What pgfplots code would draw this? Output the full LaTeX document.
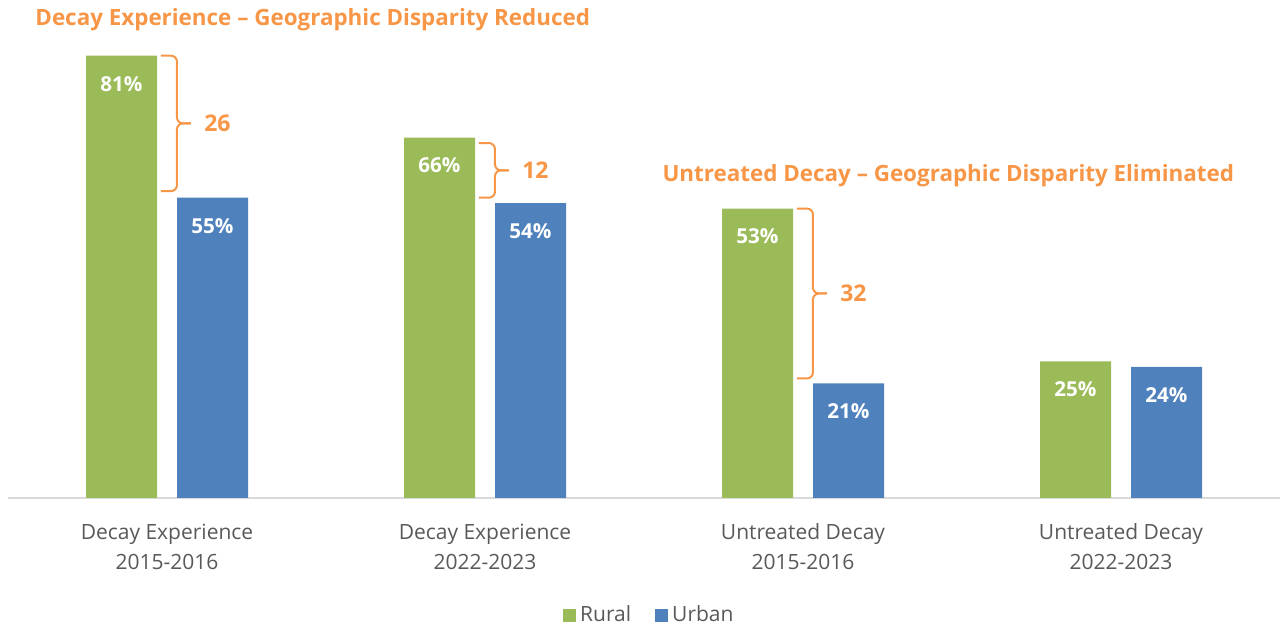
\documentclass[border=0pt]{standalone}
\usepackage{pgfplots}
\pgfplotsset{compat=1.18}
\usepackage{fontspec}
\setmainfont{Open Sans}
\definecolor{rural}{HTML}{9BBB59}
\definecolor{urban}{HTML}{4F81BD}
\definecolor{orng}{HTML}{F79646}
\definecolor{tickc}{HTML}{595959}
\definecolor{axisc}{HTML}{D9D9D9}
\newcommand{\mybrace}[4]{%
  \coordinate (ba) at (axis cs:#1,#2);
  \coordinate (bb) at (axis cs:#1,#3);
  \coordinate (bm) at (axis cs:#1,{(#2+#3)/2});
  \draw[orng, line width=1pt, rounded corners=3pt] (ba) -- ([xshift=8pt]ba) -- ([xshift=8pt]bm) -- ([xshift=15pt]bm);
  \draw[orng, line width=1pt, rounded corners=3pt] (bb) -- ([xshift=8pt]bb) -- ([xshift=8pt]bm) -- ([xshift=15pt]bm);
  \node[anchor=west, inner sep=0pt, text=orng, font=\fontsize{11.5}{13}\selectfont\bfseries] at ([xshift=21.5pt]bm) {#4};
}
\begin{document}
\begin{tikzpicture}
\path[use as bounding box] (0,0) rectangle (640pt,312pt);
\begin{axis}[
  at={(4pt,63pt)}, anchor=south west,
  scale only axis, width=636pt, height=249pt,
  xmin=-0.5, xmax=3.5, ymin=0, ymax=91.2,
  clip=false,
  ybar=10pt, bar width=35.5pt,
  axis y line=none,
  axis x line=bottom,
  x axis line style={draw=axisc, line width=1pt, -},
  xtick={0,1,2,3},
  xticklabels={{\strut Decay Experience\\2015-2016},{\strut Decay Experience\\2022-2023},{\strut Untreated Decay\\2015-2016},{\strut Untreated Decay\\2022-2023}},
  xticklabel style={align=center, text=tickc, font=\fontsize{10.5}{15}\selectfont, yshift=-6.5pt},
  major tick length=0pt,
  /pgf/number format/assume math mode=true,
  nodes near coords={\pgfmathprintnumber{\pgfplotspointmeta}\%},
  every node near coord/.append style={font=\fontsize{10.3}{12}\selectfont\bfseries, text=white, anchor=center, yshift=-14pt},
  legend style={at={(0.505,-0.235)}, anchor=center, draw=none, legend columns=2,
    font=\fontsize{10.5}{12}\selectfont, text=tickc,
    /tikz/every even column/.append style={column sep=10pt}},
  legend image code/.code={\fill[#1] (0pt,-3.25pt) rectangle (6.5pt,3.25pt);},
]
\addplot[fill=rural, draw=none] coordinates {(0,81) (1,66) (2,53) (3,25)};
\addplot[fill=urban, draw=none] coordinates {(0,55) (1,54) (2,21) (3,24)};
\legend{Rural, Urban}

\node[anchor=west, text=orng, font=\fontsize{11.2}{13}\selectfont\bfseries, inner sep=0pt] at (axis cs:-0.415,87.6) {Decay Experience – Geographic Disparity Reduced};
\node[anchor=west, text=orng, font=\fontsize{11.2}{13}\selectfont\bfseries, inner sep=0pt] at (axis cs:1.557,59.0) {Untreated Decay – Geographic Disparity Eliminated};

\mybrace{-0.019}{81}{56.2}{26}
\mybrace{0.981}{65}{55}{12}
\mybrace{1.981}{53}{21.9}{32}
\end{axis}
\end{tikzpicture}
\end{document}
